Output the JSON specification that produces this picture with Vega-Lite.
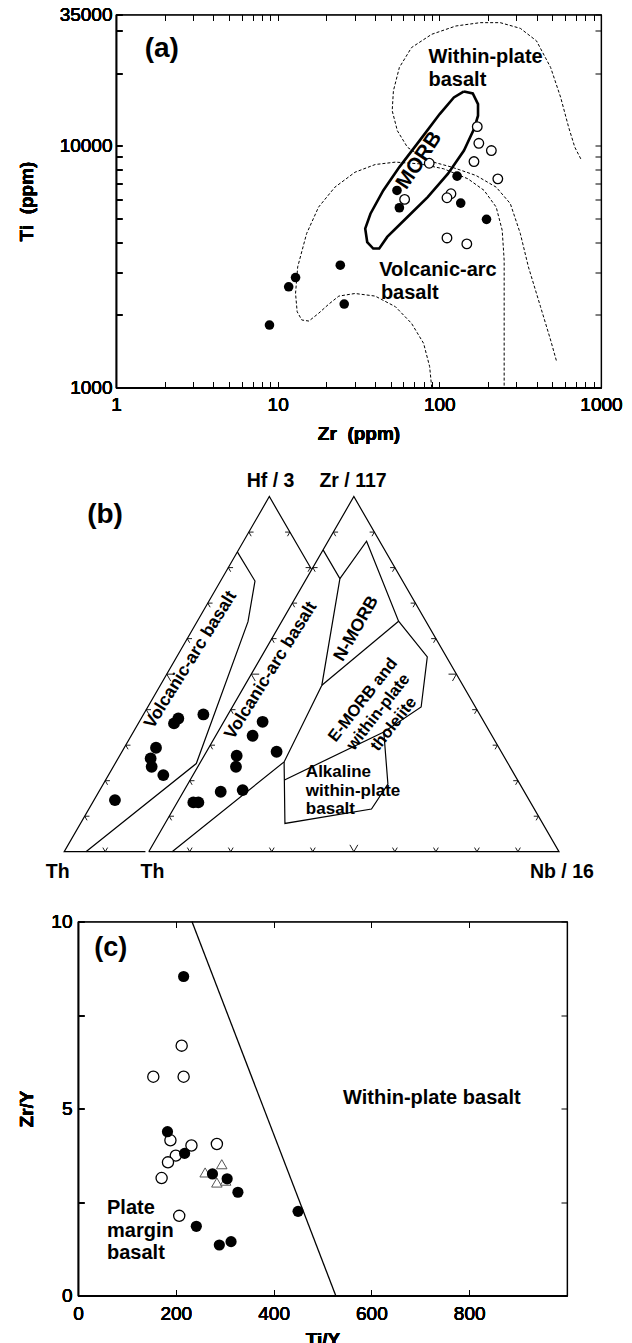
{
  "$schema": "https://vega.github.io/schema/vega-lite/v6.json",
  "padding": {"left": 15, "top": 4.5, "right": 0, "bottom": 0},
  "spacing": 20,
  "config": {
    "font": "Liberation Sans",
    "view": {"stroke": "black", "strokeWidth": 1.2},
    "axis": {
      "labelFont": "Liberation Sans", "labelFontSize": 19, "labelColor": "black",
      "titleFont": "Liberation Sans", "titleFontSize": 19, "titleFontWeight": "bold", "titleColor": "black",
      "domainColor": "black", "domainWidth": 1.2, "tickColor": "black", "tickWidth": 1, "tickSize": -6,
      "grid": false, "labelFlush": false, "labelOverlap": false
    },
    "text": {"font": "Liberation Sans", "fontWeight": "bold", "fontSize": 20, "color": "black"}
  },
  "datasets": {
    "zrTiFields": [
      {"field": "withinPlate", "seq": 1, "zr": 750, "ti": 8840},
      {"field": "withinPlate", "seq": 2, "zr": 689, "ti": 9870},
      {"field": "withinPlate", "seq": 3, "zr": 631, "ti": 11940},
      {"field": "withinPlate", "seq": 4, "zr": 563, "ti": 15880},
      {"field": "withinPlate", "seq": 5, "zr": 488, "ti": 21120},
      {"field": "withinPlate", "seq": 6, "zr": 399, "ti": 27220},
      {"field": "withinPlate", "seq": 7, "zr": 317, "ti": 30670},
      {"field": "withinPlate", "seq": 8, "zr": 238, "ti": 32380},
      {"field": "withinPlate", "seq": 9, "zr": 179, "ti": 32380},
      {"field": "withinPlate", "seq": 10, "zr": 126.5, "ti": 31370},
      {"field": "withinPlate", "seq": 11, "zr": 89.7, "ti": 28980},
      {"field": "withinPlate", "seq": 12, "zr": 67.3, "ti": 25540},
      {"field": "withinPlate", "seq": 13, "zr": 56.6, "ti": 21130},
      {"field": "withinPlate", "seq": 14, "zr": 52.0, "ti": 16920},
      {"field": "withinPlate", "seq": 15, "zr": 51.1, "ti": 13990},
      {"field": "withinPlate", "seq": 16, "zr": 55.0, "ti": 11560},
      {"field": "withinPlate", "seq": 17, "zr": 63.5, "ti": 9870},
      {"field": "withinPlate", "seq": 18, "zr": 84.7, "ti": 8700},
      {"field": "withinPlate", "seq": 19, "zr": 119.5, "ti": 8170},
      {"field": "withinPlate", "seq": 20, "zr": 168.6, "ti": 7545},
      {"field": "withinPlate", "seq": 21, "zr": 224.8, "ti": 6750},
      {"field": "withinPlate", "seq": 22, "zr": 274.8, "ti": 5770},
      {"field": "withinPlate", "seq": 23, "zr": 317, "ti": 4335},
      {"field": "withinPlate", "seq": 24, "zr": 355.6, "ti": 3157},
      {"field": "withinPlate", "seq": 25, "zr": 422.6, "ti": 2159},
      {"field": "withinPlate", "seq": 26, "zr": 487.7, "ti": 1573},
      {"field": "withinPlate", "seq": 27, "zr": 531.6, "ti": 1280},
      {"field": "volcanicArc", "seq": 1, "zr": 89.7, "ti": 1000},
      {"field": "volcanicArc", "seq": 2, "zr": 87.1, "ti": 1221},
      {"field": "volcanicArc", "seq": 3, "zr": 79.9, "ti": 1524},
      {"field": "volcanicArc", "seq": 4, "zr": 67.3, "ti": 1843},
      {"field": "volcanicArc", "seq": 5, "zr": 53.5, "ti": 2160},
      {"field": "volcanicArc", "seq": 6, "zr": 40.1, "ti": 2390},
      {"field": "volcanicArc", "seq": 7, "zr": 30.1, "ti": 2450},
      {"field": "volcanicArc", "seq": 8, "zr": 23.9, "ti": 2390},
      {"field": "volcanicArc", "seq": 9, "zr": 20.7, "ti": 2213},
      {"field": "volcanicArc", "seq": 10, "zr": 17.9, "ti": 2027},
      {"field": "volcanicArc", "seq": 11, "zr": 15.6, "ti": 1884},
      {"field": "volcanicArc", "seq": 12, "zr": 14.1, "ti": 1903},
      {"field": "volcanicArc", "seq": 13, "zr": 13.2, "ti": 2059},
      {"field": "volcanicArc", "seq": 14, "zr": 12.9, "ti": 2450},
      {"field": "volcanicArc", "seq": 15, "zr": 13.3, "ti": 3157},
      {"field": "volcanicArc", "seq": 16, "zr": 15.1, "ti": 4335},
      {"field": "volcanicArc", "seq": 17, "zr": 17.9, "ti": 5580},
      {"field": "volcanicArc", "seq": 18, "zr": 22.6, "ti": 6750},
      {"field": "volcanicArc", "seq": 19, "zr": 30.1, "ti": 7785},
      {"field": "volcanicArc", "seq": 20, "zr": 40.1, "ti": 8375},
      {"field": "volcanicArc", "seq": 21, "zr": 53.5, "ti": 8570},
      {"field": "volcanicArc", "seq": 22, "zr": 75.5, "ti": 8430},
      {"field": "volcanicArc", "seq": 23, "zr": 106.5, "ti": 8040},
      {"field": "volcanicArc", "seq": 24, "zr": 150.3, "ti": 7310},
      {"field": "volcanicArc", "seq": 25, "zr": 189.2, "ti": 6545},
      {"field": "volcanicArc", "seq": 26, "zr": 224.8, "ti": 5580},
      {"field": "volcanicArc", "seq": 27, "zr": 244.8, "ti": 4475},
      {"field": "volcanicArc", "seq": 28, "zr": 251.8, "ti": 3365},
      {"field": "volcanicArc", "seq": 29, "zr": 251.8, "ti": 2300},
      {"field": "volcanicArc", "seq": 30, "zr": 251.8, "ti": 1000},
      {"field": "MORB", "seq": 1, "zr": 142, "ti": 16810},
      {"field": "MORB", "seq": 2, "zr": 161, "ti": 16490},
      {"field": "MORB", "seq": 3, "zr": 173.5, "ti": 14900},
      {"field": "MORB", "seq": 4, "zr": 173.5, "ti": 13340},
      {"field": "MORB", "seq": 5, "zr": 163.8, "ti": 11750},
      {"field": "MORB", "seq": 6, "zr": 142, "ti": 9570},
      {"field": "MORB", "seq": 7, "zr": 112.8, "ti": 7660},
      {"field": "MORB", "seq": 8, "zr": 84.7, "ti": 6140},
      {"field": "MORB", "seq": 9, "zr": 63.5, "ti": 5080},
      {"field": "MORB", "seq": 10, "zr": 47.6, "ti": 4200},
      {"field": "MORB", "seq": 11, "zr": 42.5, "ti": 3760},
      {"field": "MORB", "seq": 12, "zr": 39.0, "ti": 3760},
      {"field": "MORB", "seq": 13, "zr": 35.8, "ti": 4000},
      {"field": "MORB", "seq": 14, "zr": 34.8, "ti": 4545},
      {"field": "MORB", "seq": 15, "zr": 37.5, "ti": 5240},
      {"field": "MORB", "seq": 16, "zr": 45.0, "ti": 6540},
      {"field": "MORB", "seq": 17, "zr": 56.6, "ti": 8170},
      {"field": "MORB", "seq": 18, "zr": 75.5, "ti": 10520},
      {"field": "MORB", "seq": 19, "zr": 100.5, "ti": 13550},
      {"field": "MORB", "seq": 20, "zr": 123, "ti": 15880},
      {"field": "MORB", "seq": 21, "zr": 142, "ti": 16810}
    ],
    "zrTiSamples": [
      {"series": "filled", "zr": 8.9, "ti": 1814},
      {"series": "filled", "zr": 11.7, "ti": 2611},
      {"series": "filled", "zr": 12.9, "ti": 2852},
      {"series": "filled", "zr": 24.4, "ti": 3208},
      {"series": "filled", "zr": 25.8, "ti": 2215},
      {"series": "filled", "zr": 54.7, "ti": 6541},
      {"series": "filled", "zr": 56.6, "ti": 5548},
      {"series": "filled", "zr": 128.8, "ti": 7497},
      {"series": "filled", "zr": 135.6, "ti": 5799},
      {"series": "filled", "zr": 195.8, "ti": 4966},
      {"series": "open", "zr": 171.6, "ti": 12016},
      {"series": "open", "zr": 175.5, "ti": 10255},
      {"series": "open", "zr": 209.8, "ti": 9569},
      {"series": "open", "zr": 163.8, "ti": 8616},
      {"series": "open", "zr": 230, "ti": 7308},
      {"series": "open", "zr": 86.6, "ti": 8478},
      {"series": "open", "zr": 61.0, "ti": 6006},
      {"series": "open", "zr": 118, "ti": 6339},
      {"series": "open", "zr": 111.5, "ti": 6103},
      {"series": "open", "zr": 111.5, "ti": 4159},
      {"series": "open", "zr": 147.9, "ti": 3930}
    ],
    "ternaryLines": [
      {"path": "hfTriangle", "seq": 1, "bx": -0.8, "by": 0},
      {"path": "hfTriangle", "seq": 2, "bx": -20.6, "by": 0},
      {"path": "hfTriangle", "seq": 3, "bx": 29.4, "by": 86.6},
      {"path": "hfTriangle", "seq": 4, "bx": 39.7, "by": 68.8},
      {"path": "zrTriangle", "seq": 1, "bx": 0, "by": 0},
      {"path": "zrTriangle", "seq": 2, "bx": 50, "by": 86.6},
      {"path": "zrTriangle", "seq": 3, "bx": 100, "by": 0},
      {"path": "zrTriangle", "seq": 4, "bx": 0, "by": 0},
      {"path": "hfArc", "seq": 1, "bx": 21.6, "by": 73.1},
      {"path": "hfArc", "seq": 2, "bx": 25.9, "by": 66.0},
      {"path": "hfArc", "seq": 3, "bx": 24.2, "by": 56.1},
      {"path": "hfArc", "seq": 4, "bx": 11.6, "by": 21.5},
      {"path": "hfArc", "seq": 5, "bx": -15.3, "by": 0},
      {"path": "zrArc", "seq": 1, "bx": 42.5, "by": 73.6},
      {"path": "zrArc", "seq": 2, "bx": 46.6, "by": 66.6},
      {"path": "zrArc", "seq": 3, "bx": 42.2, "by": 40.6},
      {"path": "zrArc", "seq": 4, "bx": 33.0, "by": 21.9},
      {"path": "zrArc", "seq": 5, "bx": 5.7, "by": 0},
      {"path": "morbFields", "seq": 1, "bx": 46.6, "by": 66.6},
      {"path": "morbFields", "seq": 2, "bx": 53.1, "by": 75.7},
      {"path": "morbFields", "seq": 3, "bx": 60.9, "by": 56.2},
      {"path": "morbFields", "seq": 4, "bx": 67.9, "by": 47.5},
      {"path": "morbFields", "seq": 5, "bx": 66.4, "by": 35.3},
      {"path": "morbFields", "seq": 6, "bx": 57.3, "by": 29.2},
      {"path": "morbFields", "seq": 7, "bx": 58.3, "by": 16.5},
      {"path": "morbFields", "seq": 8, "bx": 54.3, "by": 10.4},
      {"path": "morbFields", "seq": 9, "bx": 33.2, "by": 6.9},
      {"path": "morbFields", "seq": 10, "bx": 33.0, "by": 21.9},
      {"path": "emorbTop", "seq": 1, "bx": 42.2, "by": 40.6},
      {"path": "emorbTop", "seq": 2, "bx": 60.9, "by": 56.2},
      {"path": "alkalineTop", "seq": 1, "bx": 33.1, "by": 17.5},
      {"path": "alkalineTop", "seq": 2, "bx": 57.3, "by": 29.2}
    ],
    "ternaryTicks": [
      {"edge": "base", "kind": "minor", "bx": -10.6, "by": 0},
      {"edge": "base", "kind": "minor", "bx": 10, "by": 0},
      {"edge": "base", "kind": "minor", "bx": 20, "by": 0},
      {"edge": "base", "kind": "minor", "bx": 30, "by": 0},
      {"edge": "base", "kind": "minor", "bx": 40, "by": 0},
      {"edge": "base", "kind": "mid", "bx": 50, "by": 0},
      {"edge": "base", "kind": "minor", "bx": 60, "by": 0},
      {"edge": "base", "kind": "minor", "bx": 70, "by": 0},
      {"edge": "base", "kind": "minor", "bx": 80, "by": 0},
      {"edge": "base", "kind": "minor", "bx": 90, "by": 0},
      {"edge": "left", "kind": "minor", "bx": 5, "by": 8.66},
      {"edge": "left", "kind": "minor", "bx": 10, "by": 17.32},
      {"edge": "left", "kind": "minor", "bx": 15, "by": 25.98},
      {"edge": "left", "kind": "minor", "bx": 20, "by": 34.64},
      {"edge": "left", "kind": "mid", "bx": 25, "by": 43.3},
      {"edge": "left", "kind": "minor", "bx": 30, "by": 51.96},
      {"edge": "left", "kind": "minor", "bx": 35, "by": 60.62},
      {"edge": "left", "kind": "minor", "bx": 40, "by": 69.28},
      {"edge": "left", "kind": "minor", "bx": 45, "by": 77.94},
      {"edge": "left", "kind": "minor", "bx": -15.6, "by": 8.66},
      {"edge": "left", "kind": "minor", "bx": -10.6, "by": 17.32},
      {"edge": "left", "kind": "minor", "bx": -5.6, "by": 25.98},
      {"edge": "left", "kind": "minor", "bx": -0.6, "by": 34.64},
      {"edge": "left", "kind": "mid", "bx": 4.4, "by": 43.3},
      {"edge": "left", "kind": "minor", "bx": 9.4, "by": 51.96},
      {"edge": "left", "kind": "minor", "bx": 14.4, "by": 60.62},
      {"edge": "left", "kind": "minor", "bx": 19.4, "by": 69.28},
      {"edge": "left", "kind": "minor", "bx": 24.4, "by": 77.94},
      {"edge": "right", "kind": "minor", "bx": 95, "by": 8.66},
      {"edge": "right", "kind": "minor", "bx": 90, "by": 17.32},
      {"edge": "right", "kind": "minor", "bx": 85, "by": 25.98},
      {"edge": "right", "kind": "minor", "bx": 80, "by": 34.64},
      {"edge": "right", "kind": "mid", "bx": 75, "by": 43.3},
      {"edge": "right", "kind": "minor", "bx": 70, "by": 51.96},
      {"edge": "right", "kind": "minor", "bx": 65, "by": 60.62},
      {"edge": "right", "kind": "minor", "bx": 60, "by": 69.28},
      {"edge": "right", "kind": "minor", "bx": 55, "by": 77.94},
      {"edge": "right", "kind": "minor", "bx": 34.4, "by": 77.94},
      {"edge": "right", "kind": "minor", "bx": 39.4, "by": 69.28}
    ],
    "ternarySamples": [
      {"diagram": "Hf", "bx": -8.23, "by": 12.59},
      {"diagram": "Hf", "bx": 1.78, "by": 25.35},
      {"diagram": "Hf", "bx": 0.47, "by": 22.75},
      {"diagram": "Hf", "bx": 0.72, "by": 20.71},
      {"diagram": "Hf", "bx": 3.56, "by": 18.68},
      {"diagram": "Hf", "bx": 6.17, "by": 31.28},
      {"diagram": "Hf", "bx": 7.22, "by": 32.49},
      {"diagram": "Hf", "bx": 13.32, "by": 33.47},
      {"diagram": "Zr", "bx": 10.87, "by": 12.02},
      {"diagram": "Zr", "bx": 12.1, "by": 12.02},
      {"diagram": "Zr", "bx": 17.55, "by": 14.62},
      {"diagram": "Zr", "bx": 22.9, "by": 15.03},
      {"diagram": "Zr", "bx": 21.44, "by": 23.4},
      {"diagram": "Zr", "bx": 21.27, "by": 20.71},
      {"diagram": "Zr", "bx": 25.32, "by": 28.27},
      {"diagram": "Zr", "bx": 27.76, "by": 31.68},
      {"diagram": "Zr", "bx": 31.17, "by": 24.37}
    ],
    "tiZrSamples": [
      {"series": "filled", "tiY": 216, "zrY": 8.53},
      {"series": "filled", "tiY": 183, "zrY": 4.38},
      {"series": "filled", "tiY": 218, "zrY": 3.8},
      {"series": "filled", "tiY": 275, "zrY": 3.25},
      {"series": "filled", "tiY": 305, "zrY": 3.12},
      {"series": "filled", "tiY": 327, "zrY": 2.76},
      {"series": "filled", "tiY": 450, "zrY": 2.25},
      {"series": "filled", "tiY": 242, "zrY": 1.85},
      {"series": "filled", "tiY": 289, "zrY": 1.35},
      {"series": "filled", "tiY": 313, "zrY": 1.44},
      {"series": "open", "tiY": 154, "zrY": 5.85},
      {"series": "open", "tiY": 212, "zrY": 6.68},
      {"series": "open", "tiY": 216, "zrY": 5.85},
      {"series": "open", "tiY": 189, "zrY": 4.15},
      {"series": "open", "tiY": 232, "zrY": 4.01},
      {"series": "open", "tiY": 284, "zrY": 4.05},
      {"series": "open", "tiY": 200, "zrY": 3.74},
      {"series": "open", "tiY": 184, "zrY": 3.56},
      {"series": "open", "tiY": 171, "zrY": 3.14},
      {"series": "open", "tiY": 207, "zrY": 2.13},
      {"series": "triangle", "tiY": 294, "zrY": 3.51},
      {"series": "triangle", "tiY": 260, "zrY": 3.29},
      {"series": "triangle", "tiY": 284, "zrY": 3.02},
      {"series": "triangle", "tiY": 302, "zrY": 3.07}
    ]
  },
  "vconcat": [
    {
      "spacing": 0,
      "hconcat": [
        {
          "width": 1, "height": 1,
          "view": {"stroke": null},
          "data": {"values": [{"u": 0}]},
          "mark": {"type": "point", "size": 0, "strokeWidth": 0, "opacity": 0},
          "encoding": {"x": {"field": "u", "type": "quantitative", "axis": null}, "y": {"field": "u", "type": "quantitative", "axis": null}}
        },
        {
          "width": 485,
          "height": 373,
          "encoding": {
            "x": {
              "field": "zr", "type": "quantitative",
              "scale": {"type": "log", "domain": [1, 1000], "nice": false},
              "axis": {
                "orient": "bottom", "title": "Zr\u00a0 (ppm)",
                "values": [1, 2, 3, 4, 5, 6, 7, 8, 9, 10, 20, 30, 40, 50, 60, 70, 80, 90, 100, 200, 300, 400, 500, 600, 700, 800, 900, 1000],
                "labelExpr": "datum.value == 1 || datum.value == 10 || datum.value == 100 || datum.value == 1000 ? '' + datum.value : ''",
                "labelPadding": 14, "minExtent": 26, "maxExtent": 26, "titlePadding": 10.6
              }
            },
            "y": {
              "field": "ti", "type": "quantitative",
              "scale": {"type": "log", "domain": [1000, 35000], "nice": false},
              "axis": {
                "orient": "left", "title": "Ti\u00a0 (ppm)",
                "values": [1000, 2000, 3000, 4000, 5000, 6000, 7000, 8000, 9000, 10000, 20000, 30000, 35000],
                "labelExpr": "datum.value == 1000 || datum.value == 10000 || datum.value == 35000 ? '' + datum.value : ''",
                "labelPadding": 10, "minExtent": 60, "maxExtent": 60, "titlePadding": 20
              }
            }
          },
          "layer": [
            {
              "data": {"name": "zrTiFields"},
              "transform": [{"filter": "datum.field != 'MORB'"}],
              "mark": {"type": "line", "stroke": "black", "strokeWidth": 1, "strokeDash": [3, 2]},
              "encoding": {
                "detail": {"field": "field"},
                "order": {"field": "seq", "type": "quantitative"}
              }
            },
            {
              "data": {"name": "zrTiFields"},
              "transform": [{"filter": "datum.field == 'MORB'"}],
              "mark": {"type": "line", "stroke": "black", "strokeWidth": 2.6},
              "encoding": {
                "x": {
                  "field": "zr", "type": "quantitative",
                  "axis": {
                    "orient": "top", "title": null, "labels": false,
                    "values": [1, 2, 3, 4, 5, 6, 7, 8, 9, 10, 20, 30, 40, 50, 60, 70, 80, 90, 100, 200, 300, 400, 500, 600, 700, 800, 900, 1000]
                  }
                },
                "y": {
                  "field": "ti", "type": "quantitative",
                  "axis": {
                    "orient": "right", "title": null, "labels": false,
                    "values": [1000, 2000, 3000, 4000, 5000, 6000, 7000, 8000, 9000, 10000, 20000, 30000, 35000]
                  }
                },
                "order": {"field": "seq", "type": "quantitative"}
              }
            },
            {
              "data": {"name": "zrTiSamples"},
              "transform": [{"filter": "datum.series == 'open'"}],
              "mark": {"type": "point", "shape": "circle", "filled": true, "fill": "white", "stroke": "black", "strokeWidth": 1.3, "size": 92, "opacity": 1}
            },
            {
              "data": {"name": "zrTiSamples"},
              "transform": [{"filter": "datum.series == 'filled'"}],
              "mark": {"type": "circle", "color": "black", "size": 92, "opacity": 1}
            },
            {
              "data": {"values": [
                {"zr": 85.7, "ti": 23380, "label": "Within-plate"},
                {"zr": 85.7, "ti": 18780, "label": "basalt"},
                {"zr": 42.5, "ti": 3060, "label": "Volcanic-arc"},
                {"zr": 43.5, "ti": 2450, "label": "basalt"}
              ]},
              "mark": {"type": "text", "align": "left", "baseline": "middle", "fontSize": 20},
              "encoding": {"text": {"field": "label"}}
            },
            {
              "data": {"values": [{"zr": 1.505, "ti": 25230, "label": "(a)"}]},
              "mark": {"type": "text", "align": "left", "baseline": "middle", "fontSize": 28},
              "encoding": {"text": {"field": "label"}}
            },
            {
              "data": {"values": [{"zr": 75.2, "ti": 8703, "label": "MORB"}]},
              "mark": {"type": "text", "align": "center", "baseline": "middle", "fontSize": 21, "angle": 304},
              "encoding": {"text": {"field": "label"}}
            }
          ]
        }
      ]
    },
    {
      "width": 600,
      "height": 427,
      "view": {"stroke": null},
      "encoding": {
        "x": {"field": "bx", "type": "quantitative", "scale": {"domain": [-32.59, 113.65], "nice": false, "zero": false}, "axis": null},
        "y": {"field": "by", "type": "quantitative", "scale": {"domain": [-9.7, 94.42], "nice": false, "zero": false}, "axis": null}
      },
      "layer": [
        {
          "data": {"name": "ternaryLines"},
          "mark": {"type": "line", "stroke": "black", "strokeWidth": 1.2},
          "encoding": {
            "detail": {"field": "path"},
            "order": {"field": "seq", "type": "quantitative"}
          }
        },
        {
          "data": {"name": "ternaryTicks"},
          "mark": {"type": "point", "filled": false, "stroke": "black", "strokeWidth": 0.9, "opacity": 1},
          "encoding": {
            "shape": {
              "field": "edge",
              "scale": {"domain": ["base", "left", "right"], "range": ["M-0.5,-0.87L0,0L0.5,-0.87", "M1,0L0,0L0.5,0.87", "M-1,0L0,0L-0.5,0.87"]},
              "legend": null
            },
            "size": {
              "field": "kind",
              "scale": {"domain": ["minor", "mid"], "range": [90, 250]},
              "legend": null
            }
          }
        },
        {
          "data": {"name": "ternarySamples"},
          "mark": {"type": "circle", "color": "black", "size": 140, "opacity": 1}
        },
        {
          "data": {"values": [
            {"bx": 29.7, "by": 90.3, "label": "Hf / 3"},
            {"bx": 49.8, "by": 90.3, "label": "Zr / 117"},
            {"bx": -22.2, "by": -4.95, "label": "Th"},
            {"bx": 0.93, "by": -4.95, "label": "Th"},
            {"bx": 100.7, "by": -4.95, "label": "Nb / 16"}
          ]},
          "mark": {"type": "text", "align": "center", "baseline": "middle", "fontSize": 19.5},
          "encoding": {"text": {"field": "label"}}
        },
        {
          "data": {"values": [{"bx": -10.65, "by": 82.06, "label": "(b)"}]},
          "mark": {"type": "text", "align": "center", "baseline": "middle", "fontSize": 28},
          "encoding": {"text": {"field": "label"}}
        },
        {
          "data": {"values": [
            {"bx": 10.2, "by": 46.8, "label": "Volcanic-arc basalt"},
            {"bx": 29.8, "by": 44.2, "label": "Volcanic-arc basalt"}
          ]},
          "mark": {"type": "text", "align": "center", "baseline": "middle", "fontSize": 17.5, "angle": 302},
          "encoding": {"text": {"field": "label"}}
        },
        {
          "data": {"values": [{"bx": 50.6, "by": 54.4, "label": "N-MORB"}]},
          "mark": {"type": "text", "align": "center", "baseline": "middle", "fontSize": 17.5, "angle": 300},
          "encoding": {"text": {"field": "label"}}
        },
        {
          "data": {"values": [{"bx": 52.2, "by": 37.0, "label": "E-MORB and\nwithin-plate\ntholeiite"}]},
          "mark": {"type": "text", "align": "center", "baseline": "middle", "fontSize": 16.5, "angle": 308, "lineBreak": "\n", "lineHeight": 19.5},
          "encoding": {"text": {"field": "label"}}
        },
        {
          "data": {"values": [
            {"bx": 38.3, "by": 19.5, "label": "Alkaline"},
            {"bx": 38.3, "by": 14.8, "label": "within-plate"},
            {"bx": 38.3, "by": 10.4, "label": "basalt"}
          ]},
          "mark": {"type": "text", "align": "left", "baseline": "middle", "fontSize": 17},
          "encoding": {"text": {"field": "label"}}
        }
      ]
    },
    {
      "spacing": 0,
      "hconcat": [
        {
          "width": 1, "height": 1,
          "view": {"stroke": null},
          "data": {"values": [{"u": 0}]},
          "mark": {"type": "point", "size": 0, "strokeWidth": 0, "opacity": 0},
          "encoding": {"x": {"field": "u", "type": "quantitative", "axis": null}, "y": {"field": "u", "type": "quantitative", "axis": null}}
        },
        {
          "width": 489,
          "height": 374,
          "encoding": {
            "x": {
              "field": "tiY", "type": "quantitative",
              "scale": {"domain": [0, 1000], "nice": false},
              "axis": {
                "orient": "bottom", "title": "Ti/Y",
                "values": [0, 200, 400, 600, 800, 1000],
                "labelExpr": "datum.value < 1000 ? '' + datum.value : ''",
                "labelPadding": 15, "minExtent": 26, "maxExtent": 26, "titlePadding": 8.5
              }
            },
            "y": {
              "field": "zrY", "type": "quantitative",
              "scale": {"domain": [0, 10], "nice": false},
              "axis": {
                "orient": "left", "title": "Zr/Y",
                "values": [0, 2.5, 5, 7.5, 10],
                "labelExpr": "datum.value == 0 || datum.value == 5 || datum.value == 10 ? '' + datum.value : ''",
                "labelPadding": 12, "minExtent": 25, "maxExtent": 25, "titlePadding": 17
              }
            }
          },
          "layer": [
            {
              "data": {"values": [{"tiY": 233, "zrY": 10}, {"tiY": 527, "zrY": 0}]},
              "mark": {"type": "line", "stroke": "black", "strokeWidth": 1.3},
              "encoding": {
                "x": {
                  "field": "tiY", "type": "quantitative",
                  "axis": {"orient": "top", "title": null, "labels": false, "values": [0, 200, 400, 600, 800, 1000]}
                },
                "y": {
                  "field": "zrY", "type": "quantitative",
                  "axis": {"orient": "right", "title": null, "labels": false, "values": [0, 2.5, 5, 7.5, 10]}
                }
              }
            },
            {
              "data": {"name": "tiZrSamples"},
              "transform": [{"filter": "datum.series == 'open'"}],
              "mark": {"type": "point", "shape": "circle", "filled": true, "fill": "white", "stroke": "black", "strokeWidth": 1.3, "size": 125, "opacity": 1}
            },
            {
              "data": {"name": "tiZrSamples"},
              "transform": [{"filter": "datum.series == 'triangle'"}],
              "mark": {"type": "point", "shape": "triangle-up", "filled": true, "fill": "white", "stroke": "#555555", "strokeWidth": 1, "size": 110, "opacity": 1}
            },
            {
              "data": {"name": "tiZrSamples"},
              "transform": [{"filter": "datum.series == 'filled'"}],
              "mark": {"type": "circle", "color": "black", "size": 125, "opacity": 1}
            },
            {
              "data": {"values": [{"tiY": 33, "zrY": 9.3, "label": "(c)"}]},
              "mark": {"type": "text", "align": "left", "baseline": "middle", "fontSize": 27},
              "encoding": {"text": {"field": "label"}}
            },
            {
              "data": {"values": [{"tiY": 723.5, "zrY": 5.29, "label": "Within-plate basalt"}]},
              "mark": {"type": "text", "align": "center", "baseline": "middle", "fontSize": 20},
              "encoding": {"text": {"field": "label"}}
            },
            {
              "data": {"values": [
                {"tiY": 59.3, "zrY": 2.35, "label": "Plate"},
                {"tiY": 59.3, "zrY": 1.73, "label": "margin"},
                {"tiY": 59.3, "zrY": 1.13, "label": "basalt"}
              ]},
              "mark": {"type": "text", "align": "left", "baseline": "middle", "fontSize": 20},
              "encoding": {"text": {"field": "label"}}
            }
          ]
        }
      ]
    }
  ]
}
